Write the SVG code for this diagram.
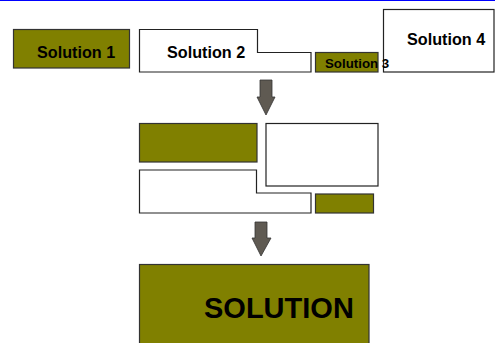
<svg xmlns="http://www.w3.org/2000/svg" width="495" height="343" viewBox="0 0 495 343">
<style>
.olive{fill:#808000;stroke:#333;stroke-width:1.2}
.white{fill:#fff;stroke:#222;stroke-width:1.2}
.arrow{fill:#5f5a52;stroke:#333;stroke-width:0.8}
text{font-family:"Liberation Sans",Arial,sans-serif;font-weight:bold;fill:#000}
.lbl{font-size:16.2px}
</style>
<rect x="0" y="0" width="495" height="343" fill="#fff"/>
<line x1="0" y1="0.5" x2="495" y2="0.5" stroke="#0000ff" stroke-width="1"/>
<g id="solution1"><rect class="olive" x="13.5" y="29.5" width="116" height="38.5"/><text class="lbl" x="37" y="58">Solution 1</text></g>
<g id="solution2"><path class="white" d="M139.5,29.5 H257.5 V52.5 H311 V72 H139.5 Z"/><text class="lbl" x="167" y="58">Solution 2</text></g>
<g id="solution4"><rect class="white" x="383.5" y="9.5" width="110.5" height="62.5"/><text class="lbl" x="407" y="45">Solution 4</text></g>
<g id="solution3"><rect class="olive" x="315.5" y="52.5" width="62.5" height="19.5"/><text x="325" y="68" font-size="13.3">Solution 3</text></g>
<g id="mid1"><rect class="olive" x="139.5" y="123.5" width="117.5" height="38.5"/></g>
<g id="mid2"><rect class="white" x="266" y="123.5" width="112" height="62.5"/></g>
<g id="mid3"><path class="white" d="M139.5,170 H256.5 V193 H311 V213 H139.5 Z"/></g>
<g id="mid4"><rect class="olive" x="315.5" y="194" width="58" height="19"/></g>
<g id="solution"><rect class="olive" x="139.5" y="264.5" width="229.5" height="90"/><text x="204" y="318" font-size="29">SOLUTION</text></g>
<g id="connectors">
<path class="arrow" d="M260,80 H272 V97 H275 L266,115 L257,97 H260 Z"/>
<path class="arrow" d="M255,222 H267 V238 H271 L261,256 L252,238 H255 Z"/>
</g>
</svg>
